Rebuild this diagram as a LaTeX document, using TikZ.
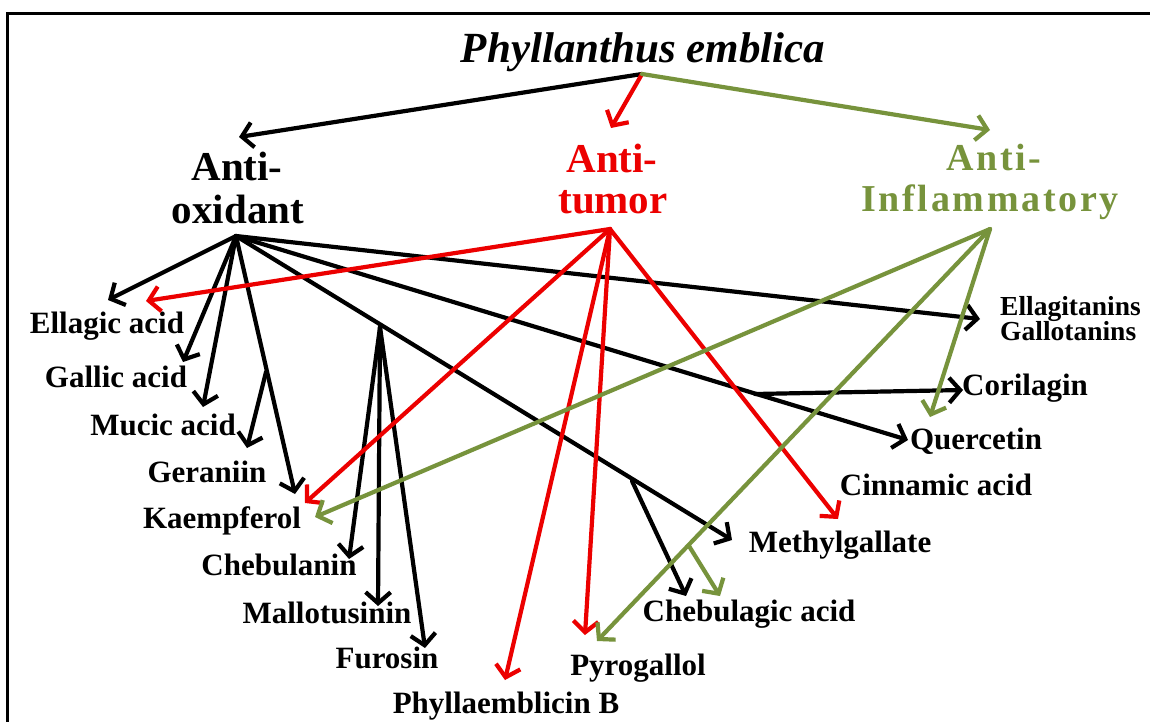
\documentclass[tikz,border=0pt]{standalone}
\usepackage{fontspec}
\setmainfont{Liberation Serif}
\newfontfamily\aifont[LetterSpace=7]{Liberation Serif}
\usetikzlibrary{arrows.meta}
\definecolor{myolive}{RGB}{119,147,60}
\definecolor{myred}{RGB}{236,0,0}
\tikzset{
  lbl/.style={font=\bfseries\fontsize{31}{33}\selectfont, anchor=base, inner sep=0pt},
  lbls/.style={font=\bfseries\fontsize{27.5}{30}\selectfont, anchor=base west, inner sep=0pt},
  ttl/.style={font=\bfseries\itshape\fontsize{43}{45}\selectfont, anchor=base, inner sep=0pt},
  hao/.style={font=\bfseries\fontsize{41}{44}\selectfont, anchor=base, inner sep=0pt},
  hat/.style={font=\bfseries\fontsize{41}{44}\selectfont, anchor=base, inner sep=0pt, text=myred},
  hai/.style={font=\aifont\bfseries\fontsize{38}{40}\selectfont, anchor=base, inner sep=0pt, text=myolive},
  conn/.style={line width=4.2pt, line cap=round, -{Straight Barb[length=11pt,width=25pt]}},
  blk/.style={draw=black},
  rd/.style={draw=myred},
  gr/.style={draw=myolive}
}
\begin{document}
\begin{tikzpicture}[x=1pt,y=-1pt]
\useasboundingbox (0,0) rectangle (1150,721);
\clip (0,0) rectangle (1150,721);
\fill[white] (0,0) rectangle (1150,721);
\draw[line width=3pt] (7,730) -- (7,13) -- (1160,13);

% headings
\node[ttl] (pe) at (643,62) {Phyllanthus emblica};
\node[hao] (ao1) at (237,180) {Anti-};
\node[hao] (ao2) at (238,223) {oxidant};
\node[hat] (at1) at (612,172) {Anti-};
\node[hat] (at2) at (613,213) {tumor};
\node[hai] (ai1) at (994,170) {Anti-};
\node[hai] (ai2) at (990,211) {Inflammatory};

% compound labels
\node[lbl] (ella) at (107,333) {Ellagic acid};
\node[lbl] (gall) at (116,387) {Gallic acid};
\node[lbl] (muci) at (163,435) {Mucic acid};
\node[lbl] (gera) at (207,482) {Geraniin};
\node[lbl] (kaem) at (222,528) {Kaempferol};
\node[lbl] (cheb) at (279,575) {Chebulanin};
\node[lbl] (mall) at (327,623) {Mallotusinin};
\node[lbl] (furo) at (387,668) {Furosin};
\node[lbl] (phyl) at (506,713) {Phyllaemblicin B};
\node[lbl] (pyro) at (638,675) {Pyrogallol};
\node[lbl] (chga) at (749,621) {Chebulagic acid};
\node[lbl] (meth) at (840,552) {Methylgallate};
\node[lbl] (cinn) at (936,495) {Cinnamic acid};
\node[lbl] (quer) at (976,449) {Quercetin};
\node[lbl] (cori) at (1025,395) {Corilagin};
\node[lbls] (ellt) at (1000,315) {Ellagitanins};
\node[lbls] (galt) at (1000,340) {Gallotanins};

% hubs and branch points
\coordinate (fork) at (642,74);
\coordinate (hAO) at (236,236);
\coordinate (hAT) at (610,229);
\coordinate (hAI) at (990,229);
\coordinate (bKae) at (266,372);
\coordinate (bMe1) at (380,327);
\coordinate (bMe2) at (632,481);
\coordinate (bQue) at (755,394);
\coordinate (bPyr) at (689,546);

% arrow tips
\coordinate (tAO) at (239,137);
\coordinate (tAT) at (611,128);
\coordinate (tAI) at (990,130);
\coordinate (tEll) at (108,300);
\coordinate (tGal) at (183,362);
\coordinate (tMuc) at (203,407);
\coordinate (tGer) at (247,448);
\coordinate (tKae) at (295,494);
\coordinate (tChn) at (349,559);
\coordinate (tMal) at (378,606);
\coordinate (tFur) at (425,648);
\coordinate (tMet) at (732,540);
\coordinate (tCga) at (686,596);
\coordinate (tQue) at (908,440);
\coordinate (tCor) at (963,390);
\coordinate (tElt) at (980,319);
\coordinate (rEll) at (146,301);
\coordinate (rKae) at (305,503);
\coordinate (rPhy) at (505,680);
\coordinate (rPyr) at (585,635);
\coordinate (rCin) at (838,519);
\coordinate (gKae) at (315,517);
\coordinate (gPyr) at (597,641);
\coordinate (gCga) at (720,596);
\coordinate (gQue) at (930,417);

% black (anti-oxidant)
\draw[conn, blk] (fork) -- (tAO);
\draw[conn, blk] (hAO) -- (tEll);
\draw[conn, blk] (hAO) -- (tGal);
\draw[conn, blk] (hAO) -- (tMuc);
\draw[conn, blk] (hAO) -- (tKae);
\draw[conn, blk] (bKae) -- (tGer);
\draw[conn, blk] (hAO) -- (tMet);
\draw[conn, blk] (bMe1) -- (tChn);
\draw[conn, blk] (bMe1) -- (tMal);
\draw[conn, blk] (bMe1) -- (tFur);
\draw[conn, blk] (bMe2) -- (tCga);
\draw[conn, blk] (hAO) -- (tQue);
\draw[conn, blk] (bQue) -- (tCor);
\draw[conn, blk] (hAO) -- (tElt);

% red (anti-tumor)
\draw[conn, rd] (fork) -- (tAT);
\draw[conn, rd] (hAT) -- (rEll);
\draw[conn, rd] (hAT) -- (rKae);
\draw[conn, rd] (hAT) -- (rPhy);
\draw[conn, rd] (hAT) -- (rPyr);
\draw[conn, rd] (hAT) -- (rCin);

% green (anti-inflammatory)
\draw[conn, gr] (fork) -- (tAI);
\draw[conn, gr] (hAI) -- (gKae);
\draw[conn, gr] (hAI) -- (gPyr);
\draw[conn, gr] (bPyr) -- (gCga);
\draw[conn, gr] (hAI) -- (gQue);
\end{tikzpicture}
\end{document}
